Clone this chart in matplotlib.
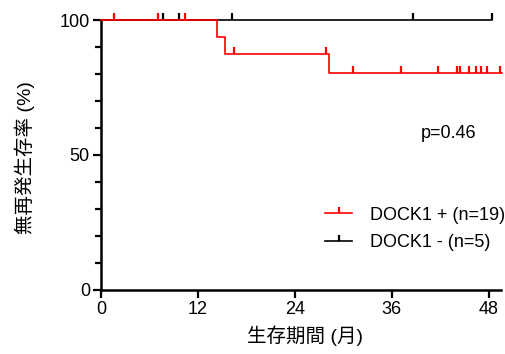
import matplotlib
matplotlib.use("Agg")
import matplotlib.pyplot as plt
from matplotlib.lines import Line2D
import numpy as np

plt.rcParams['font.family'] = ['Liberation Sans', 'Noto Sans CJK JP', 'DejaVu Sans']

# Data (months, survival %)
pos_step_t = [0, 14.3, 15.3, 28.2, 49.6]
pos_step_s = [100, 93.75, 87.5, 80.2, 80.2]
pos_cens_t = [1.6, 7.0, 10.4, 16.4, 27.8, 31.2, 37.1, 41.7, 44.1, 44.4, 45.5, 46.4, 47.0, 47.8, 49.4]
neg_step_t = [0, 48.4]
neg_step_s = [100, 100]
neg_cens_t = [7.7, 9.7, 16.2, 38.6, 48.4]

x_ticks = [0, 12, 24, 36, 48]
y_ticks = [0, 50, 100]
labels = ['DOCK1 + (n=19)', 'DOCK1 - (n=5)']

def surv_at(t, st, ss):
    idx = np.searchsorted(st, t, side='right') - 1
    return np.array(ss)[idx]

fig = plt.figure(figsize=(5.05, 3.54), dpi=100)
ax = fig.add_axes([0.2, 0.1808, 0.792, 0.7627])

ax.step(neg_step_t, neg_step_s, where='post', color='black', lw=1.2, clip_on=False, zorder=3)
ax.plot(neg_cens_t, surv_at(neg_cens_t, neg_step_t, neg_step_s), ls='none', marker=2,
        color='black', ms=5, mew=1.6, clip_on=False, zorder=3)
ax.step(pos_step_t, pos_step_s, where='post', color='#ff0000', lw=1.2, clip_on=False, zorder=4)
ax.plot(pos_cens_t, surv_at(pos_cens_t, pos_step_t, pos_step_s), ls='none', marker=2,
        color='#ff0000', ms=5, mew=1.6, clip_on=False, zorder=4)

h1 = Line2D([0, 0.5, 1], [0, 0, 0], color='#ff0000', lw=1.2, marker=2, ms=4, mew=1.6, markevery=[1])
h2 = Line2D([0, 0.5, 1], [0, 0, 0], color='black', lw=1.2, marker=2, ms=4, mew=1.6, markevery=[1])
leg = fig.legend([h1, h2], labels, loc='center left',
                 bbox_to_anchor=(325 / 505, 1 - 229 / 354), bbox_transform=fig.transFigure,
                 frameon=False, fontsize=13, borderpad=0, borderaxespad=0,
                 handlelength=1.5, handletextpad=1.0, labelspacing=0.6)

ax.text(0.87, 0.581, 'p=0.46', transform=ax.transAxes, fontsize=13, ha='center', va='center')

ax.set_xlim(0, 49.5)
ax.set_ylim(0, 100)
ax.set_xticks(x_ticks)
ax.set_yticks(y_ticks)
ax.set_yticks(np.arange(10, 100, 10), minor=True)
ax.set_xticklabels([str(v) for v in x_ticks])
ax.set_yticklabels([str(v) for v in y_ticks])
ax.tick_params(axis='both', which='major', length=6, width=1.6, labelsize=13, pad=2)
ax.tick_params(axis='y', which='minor', length=4, width=1.6)
for s in ['top', 'right']:
    ax.spines[s].set_visible(False)
for s in ['left', 'bottom']:
    ax.spines[s].set_linewidth(1.8)

ax.set_xlabel('生存期間 (月)', fontsize=14, va='center')
ax.xaxis.set_label_coords(0.51, (290 - 336) / 270)
ax.set_ylabel('無再発生存率 (%)', fontsize=14, va='center')
ax.yaxis.set_label_coords((25 - 101) / 400, (290 - 158) / 270)

fig.savefig('out.png', dpi=100)
